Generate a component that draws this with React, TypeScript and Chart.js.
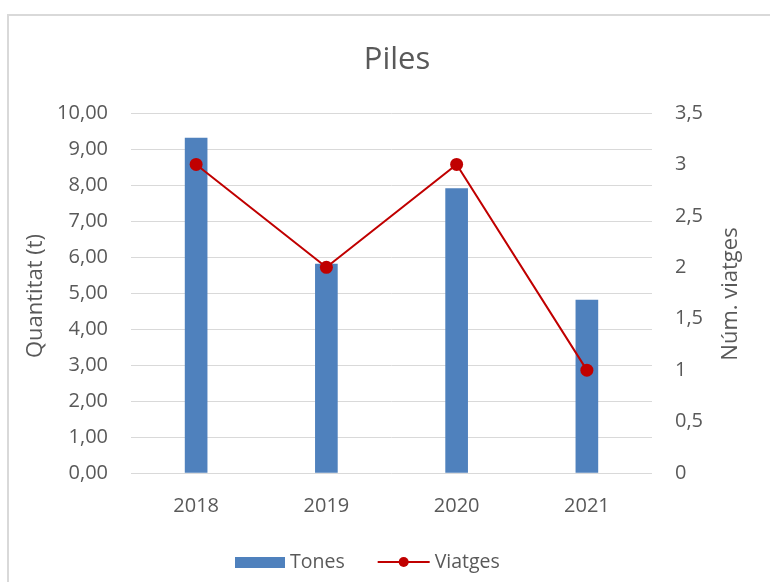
import React, { useEffect, useRef } from 'react';
import { Chart, registerables } from 'chart.js';

Chart.register(...registerables);

const categories: string[] = ['2018', '2019', '2020', '2021'];
const tones: number[] = [9.3, 5.8, 7.9, 4.8];
const viatges: number[] = [3, 2, 3, 1];
const leftAxisRange: number[] = [0, 10, 1];
const rightAxisRange: number[] = [0, 3.5, 0.5];
const chartTitle = 'Piles';
const leftAxisTitle = 'Quantitat (t)';
const rightAxisTitle = 'Núm. viatges';

const FONT = '"Open Sans", sans-serif';
const TEXT = '#595959';
const BAR_COLOR = '#4F81BD';
const LINE_COLOR = '#C00000';
const GRID = '#d9d9d9';

const overlay = {
  id: 'overlay',
  beforeDraw(chart: any) {
    const ctx = chart.ctx;
    ctx.save();
    ctx.fillStyle = '#ffffff';
    ctx.fillRect(0, 0, chart.width, chart.height);
    ctx.strokeStyle = GRID;
    ctx.lineWidth = 2;
    ctx.beginPath();
    ctx.moveTo(8, chart.height + 5);
    ctx.lineTo(8, 15);
    ctx.lineTo(chart.width + 5, 15);
    ctx.stroke();
    ctx.restore();
  },
  afterDraw(chart: any) {
    const ctx = chart.ctx;
    const area = chart.chartArea;
    const midY = (area.top + area.bottom) / 2;
    ctx.save();
    ctx.fillStyle = TEXT;
    // title
    ctx.font = `31px ${FONT}`;
    ctx.textAlign = 'center';
    ctx.textBaseline = 'alphabetic';
    ctx.fillText(chartTitle, 397, 69);
    // left axis title
    ctx.font = `22px ${FONT}`;
    ctx.save();
    ctx.translate(42, midY + 3);
    ctx.rotate(-Math.PI / 2);
    ctx.fillText(leftAxisTitle, 0, 0);
    ctx.restore();
    // right axis title (reads bottom to top)
    ctx.save();
    ctx.translate(737, midY + 1);
    ctx.rotate(-Math.PI / 2);
    ctx.fillText(rightAxisTitle, 0, 0);
    ctx.restore();
    // legend
    ctx.font = `19.5px ${FONT}`;
    ctx.textAlign = 'left';
    const ds = chart.data.datasets;
    let x = 235;
    const cy = 562;
    ds.forEach((d: any, i: number) => {
      if (d.type === 'line') {
        ctx.strokeStyle = d.borderColor;
        ctx.lineWidth = 2;
        ctx.beginPath();
        ctx.moveTo(x, cy);
        ctx.lineTo(x + 52, cy);
        ctx.stroke();
        ctx.fillStyle = d.pointBackgroundColor;
        ctx.beginPath();
        ctx.arc(x + 26, cy, 5, 0, Math.PI * 2);
        ctx.fill();
        ctx.fillStyle = TEXT;
        ctx.fillText(d.label, x + 57, 568);
        x += 57 + ctx.measureText(d.label).width + 33;
      } else {
        ctx.fillStyle = d.backgroundColor;
        ctx.fillRect(x, 557, 50, 11);
        ctx.fillStyle = TEXT;
        ctx.fillText(d.label, x + 55, 568);
        x += 55 + ctx.measureText(d.label).width + 33;
      }
    });
    ctx.restore();
  },
};

export default function App() {
  const ref = useRef<HTMLCanvasElement>(null);
  useEffect(() => {
    const chart = new Chart(ref.current as HTMLCanvasElement, {
      type: 'bar',
      data: {
        labels: categories,
        datasets: [
          {
            type: 'bar',
            label: 'Tones',
            data: tones,
            yAxisID: 'y',
            backgroundColor: BAR_COLOR,
            barThickness: 22,
            order: 1,
          } as any,
          {
            type: 'line',
            label: 'Viatges',
            data: viatges,
            yAxisID: 'y1',
            borderColor: LINE_COLOR,
            backgroundColor: LINE_COLOR,
            borderWidth: 2,
            pointRadius: 6.5,
            pointBackgroundColor: LINE_COLOR,
            pointBorderColor: LINE_COLOR,
            pointBorderWidth: 0,
            tension: 0,
            order: 0,
          } as any,
        ],
      },
      options: {
        responsive: false,
        animation: false,
        layout: { padding: { top: 113, left: 0, right: 0, bottom: 0 } },
        plugins: {
          legend: { display: false },
          title: { display: false },
          tooltip: { enabled: false },
        },
        scales: {
          x: {
            grid: { display: false, drawTicks: false },
            border: { display: false },
            ticks: { color: TEXT, font: { family: FONT, size: 20 }, padding: 21 },
            afterFit: (s: any) => { s.height = 109; },
          },
          y: {
            position: 'left',
            min: leftAxisRange[0],
            max: leftAxisRange[1],
            ticks: {
              stepSize: leftAxisRange[2],
              color: TEXT,
              font: { family: FONT, size: 20 },
              padding: 23,
              callback: (v: any) => Number(v).toFixed(2).replace('.', ','),
            },
            grid: { color: GRID, lineWidth: 1, drawTicks: false },
            border: { display: false },
            afterFit: (s: any) => { s.width = 131; },
          },
          y1: {
            position: 'right',
            min: rightAxisRange[0],
            max: rightAxisRange[1],
            ticks: {
              stepSize: rightAxisRange[2],
              color: TEXT,
              font: { family: FONT, size: 20 },
              padding: 23,
              callback: (v: any) => String(Number(Number(v).toFixed(1))).replace('.', ','),
            },
            grid: { display: false, drawTicks: false },
            border: { display: false },
            afterFit: (s: any) => { s.width = 118; },
          },
        },
      } as any,
      plugins: [overlay],
    });
    return () => chart.destroy();
  }, []);

  return (
    <div style={{ position: 'fixed', left: 0, top: 0, width: 770, height: 582, background: '#fff' }}>
      <canvas ref={ref} width={770} height={582} style={{ display: 'block' }} />
    </div>
  );
}
